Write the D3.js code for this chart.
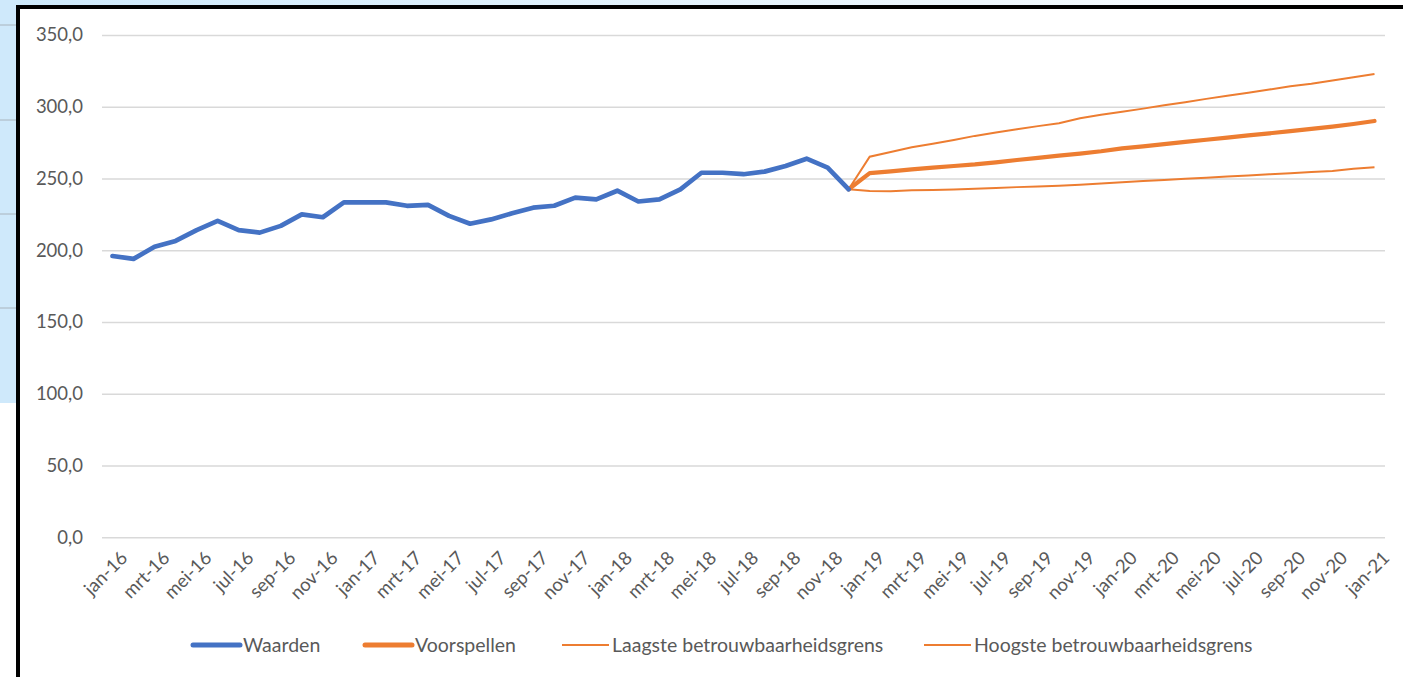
<!DOCTYPE html>
<html lang="nl">
<head>
<meta charset="utf-8">
<script src="https://d3js.org/d3.v7.min.js"></script>
<style>
*{margin:0;padding:0}
body{width:1403px;height:677px;overflow:hidden;background:#fff;font-family:Lato,"Open Sans",sans-serif}
svg{display:block}
</style>
</head>
<body>
<script>
// maand- en jaarlabels van de categorie-as
const maanden=['jan','feb','mrt','apr','mei','jun','jul','aug','sep','okt','nov','dec'];
const jaren=['16','17','18','19','20','21'];
// jan-16 t/m dec-18
const waarden=[196,194,202.5,206.5,214,220.5,214,212.3,217,225,223,233.4,
               233.4,233.4,231,231.6,224,218.5,221.5,225.8,229.7,231,236.7,235.5,
               241.5,234,235.5,242.5,254,254,253,254.8,258.7,263.8,257.6,242.5];
// dec-18 t/m jan-21
const voorspellen=[242.5,253.8,255,256.4,257.6,258.7,259.8,261.3,262.9,264.4,265.9,267.4,269,
                   271,272.4,274,275.5,277,278.5,280,281.5,283,284.6,286.2,288,290.1];
const laagste=[242.5,241.3,241.2,241.8,242,242.3,242.8,243.4,244,244.4,244.9,245.6,246.5,
               247.4,248.2,249,249.8,250.6,251.4,252.1,252.9,253.7,254.5,255.3,256.8,257.8];
const hoogste=[242.5,265.2,268.5,271.8,274.3,276.9,279.7,282,284.3,286.5,288.5,292,294.5,
               296.6,298.7,301,303.2,305.5,307.6,309.8,312,314.3,316,318.3,320.5,322.8];
const yTicks=[0,50,100,150,200,250,300,350];
const legendItems=['Waarden','Voorspellen','Laagste betrouwbaarheidsgrens','Hoogste betrouwbaarheidsgrens'];

const categories=jaren.flatMap(j=>maanden.map(m=>m+'-'+j)).slice(0,61);
const forecastStart=waarden.length-1;

const W=1403,H=677;
const blue='#4472C4',orange='#ED7D31',textCol='#595959';

const svg=d3.select('body').append('svg').attr('width',W).attr('height',H);

// achtergrond van het scherm
const defs=svg.append('defs');
const grad=defs.append('linearGradient').attr('id','topfade');
grad.append('stop').attr('offset','0%').attr('stop-color','#cde9fb');
grad.append('stop').attr('offset','70%').attr('stop-color','#eef7fd');
grad.append('stop').attr('offset','100%').attr('stop-color','#ffffff');
svg.append('rect').attr('x',0).attr('y',0).attr('width',W).attr('height',6).attr('fill','url(#topfade)');
svg.append('rect').attr('x',0).attr('y',0).attr('width',17).attr('height',403).attr('fill','#cfe9fb');
[25,120,214,308].forEach(y=>{
    svg.append('line').attr('x1',0).attr('x2',17).attr('y1',y).attr('y2',y)
       .attr('stroke','#a9b4bd').attr('stroke-width',1);
});
svg.append('rect').attr('x',0).attr('y',403).attr('width',17).attr('height',H-403).attr('fill','#fff');
// zwarte rand
svg.append('rect').attr('x',16).attr('y',5).attr('width',4).attr('height',H).attr('fill','#000');
svg.append('rect').attr('x',16).attr('y',5).attr('width',W).attr('height',4).attr('fill','#000');

const x=d3.scalePoint().domain(categories).range([112.5,1374.5]);
const y=d3.scaleLinear().domain([0,350]).range([537.3,35]);

// rasterlijnen + y-as
const yAxis=svg.append('g')
    .attr('transform','translate(102,0)')
    .call(d3.axisLeft(y).tickValues(yTicks).tickSize(-1283).tickPadding(19)
        .tickFormat(d=>d3.format('.1f')(d).replace('.',',')));
yAxis.select('.domain').remove();
yAxis.selectAll('line').attr('stroke','#d9d9d9').attr('stroke-width',1.5);
yAxis.selectAll('text').attr('fill',textCol).style('font-size','18.5px').style('font-family','Lato');

// x-as labels (elke tweede maand)
svg.append('g').selectAll('text')
   .data(categories.filter((d,i)=>i%2===0))
   .join('text')
   .attr('transform',d=>`translate(${x(d)+7},${550}) rotate(-45)`)
   .attr('text-anchor','end')
   .attr('dy','0.7em')
   .attr('fill',textCol)
   .style('font-size','18.5px')
   .text(d=>d);

const line=d3.line().x(d=>x(d.c)).y(d=>y(d.v));
const hist=waarden.map((v,i)=>({c:categories[i],v}));
const fc=arr=>arr.map((v,i)=>({c:categories[forecastStart+i],v}));

svg.append('path').datum(fc(laagste)).attr('d',line)
   .attr('fill','none').attr('stroke',orange).attr('stroke-width',2);
svg.append('path').datum(fc(hoogste)).attr('d',line)
   .attr('fill','none').attr('stroke',orange).attr('stroke-width',2);
svg.append('path').datum(fc(voorspellen)).attr('d',line)
   .attr('fill','none').attr('stroke',orange).attr('stroke-width',4.2).attr('stroke-linejoin','round').attr('stroke-linecap','round');
svg.append('path').datum(hist).attr('d',line)
   .attr('fill','none').attr('stroke',blue).attr('stroke-width',4.7).attr('stroke-linejoin','round').attr('stroke-linecap','round');

// legenda
const legX=[193,365,562,924];
const legStroke=[[blue,5],[orange,5],[orange,2],[orange,2]];
const leg=svg.append('g').selectAll('g').data(legendItems).join('g')
   .attr('transform',(d,i)=>`translate(${legX[i]},645)`);
leg.append('line').attr('x1',0).attr('x2',47).attr('y1',0).attr('y2',0)
   .attr('stroke',(d,i)=>legStroke[i][0]).attr('stroke-width',(d,i)=>legStroke[i][1])
   .attr('stroke-linecap',(d,i)=>i<2?'round':'butt');
leg.append('text').attr('x',50).attr('dy','0.35em')
   .attr('fill',textCol).style('font-size','19.5px').text(d=>d);
</script>
</body>
</html>
